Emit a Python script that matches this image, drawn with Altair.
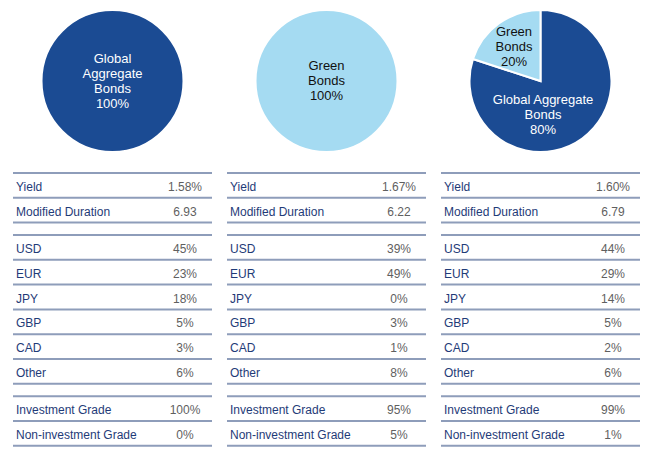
import altair as alt
import pandas as pd

# ---- data ----
segments = ["Global Aggregate Bonds", "Green Bonds"]
global_share = [100, 0, 80]
green_share = [0, 100, 20]

risk_labels = ["Yield", "Modified Duration"]
yields = ["1.58%", "1.67%", "1.60%"]
durations = ["6.93", "6.22", "6.79"]

currencies = ["USD", "EUR", "JPY", "GBP", "CAD", "Other"]
usd = [45, 39, 44]
eur = [23, 49, 29]
jpy = [18, 0, 14]
gbp = [5, 3, 5]
cad = [3, 1, 2]
other = [6, 8, 6]

grade_labels = ["Investment Grade", "Non-investment Grade"]
inv_grade = [100, 95, 99]
non_inv_grade = [0, 5, 1]

# ---- style ----
DARK = "#1B4B93"
LIGHT = "#A5DBF2"
LINE = "#8E9DBA"
LABEL_C = "#1F3B78"
VALUE_C = "#5F5F5F"
FONT = "Liberation Sans, Arial"
COL_W = 199
PIE_H = 162
TAB_H = 299
ROW = 24.8
TOP_OFF = 11
LH = 15

# pie label wrapping (layout only)
pie_text = {
    0: [("Global\nAggregate\nBonds", 0, "white", 0, 0)],
    1: [("Green\nBonds", 1, "#111111", 0, 0)],
    2: [("Green\nBonds", 1, "#111111", -26.5, -34.5),
        ("Global Aggregate\nBonds", 0, "white", 2.5, 34)],
}


def pie(i):
    shares = [global_share[i], green_share[i]]
    df = pd.DataFrame({"segment": segments, "share": shares, "order": [0, 1]})
    base = alt.Chart(df).transform_filter("datum.share > 0")
    arc = base.mark_arc(outerRadius=71, stroke="white", strokeWidth=2).encode(
        theta=alt.Theta("share:Q", stack=True),
        color=alt.Color("segment:N", scale=alt.Scale(domain=segments, range=[DARK, LIGHT]), legend=None),
        order=alt.Order("order:Q"),
    )
    layers = [arc]
    for txt, seg_idx, col, dx, dy in pie_text[i]:
        full = txt + "\n" + str(shares[seg_idx]) + "%"
        n = full.count("\n") + 1
        tdf = pd.DataFrame({"label": [full]})
        t = alt.Chart(tdf).mark_text(
            font=FONT, fontSize=13, color=col, lineBreak="\n", lineHeight=LH,
            align="center", baseline="middle", dx=dx, dy=dy - (n - 1) * LH / 2,
        ).encode(x=alt.value(COL_W / 2), y=alt.value(PIE_H / 2), text="label:N")
        layers.append(t)
    return alt.layer(*layers).properties(width=COL_W, height=PIE_H)


def table(i):
    groups = [
        (risk_labels, [yields[i], durations[i]]),
        (currencies, [f"{v[i]}%" for v in [usd, eur, jpy, gbp, cad, other]]),
        (grade_labels, [f"{inv_grade[i]}%", f"{non_inv_grade[i]}%"]),
    ]
    rows, lines = [], []
    slot = 0.0
    for labels, vals in groups:
        lines.append(slot)
        for lab, val in zip(labels, vals):
            rows.append({"label": lab, "value": val, "mid": slot + 0.5})
            slot += 1
            lines.append(slot)
        slot += 0.5
    rdf = pd.DataFrame(rows)
    ldf = pd.DataFrame({"pos": lines})
    yscale = alt.Scale(domain=[-TOP_OFF / ROW, (TAB_H - TOP_OFF) / ROW], reverse=True, nice=False, zero=False)
    rules = alt.Chart(ldf).mark_rule(color=LINE, strokeWidth=2).encode(
        y=alt.Y("pos:Q", scale=yscale, axis=None),
        x=alt.value(0), x2=alt.value(COL_W),
    )
    labels = alt.Chart(rdf).mark_text(
        font=FONT, fontSize=12, color=LABEL_C, align="left", baseline="middle", dy=1.5
    ).encode(y=alt.Y("mid:Q", scale=yscale, axis=None), x=alt.value(3), text="label:N")
    values = alt.Chart(rdf).mark_text(
        font=FONT, fontSize=12, color=VALUE_C, align="center", baseline="middle", dy=1.5
    ).encode(y=alt.Y("mid:Q", scale=yscale, axis=None), x=alt.value(172), text="value:N")
    return alt.layer(rules, labels, values).properties(width=COL_W, height=TAB_H)


cols = [alt.vconcat(pie(i), table(i), spacing=0) for i in range(3)]
chart = alt.hconcat(*cols, spacing=13).properties(
    padding={"left": 12, "top": 0, "right": 0, "bottom": 0}
).configure_view(stroke=None)

chart.save("out.html", embed_options={"renderer": "svg", "actions": False})
